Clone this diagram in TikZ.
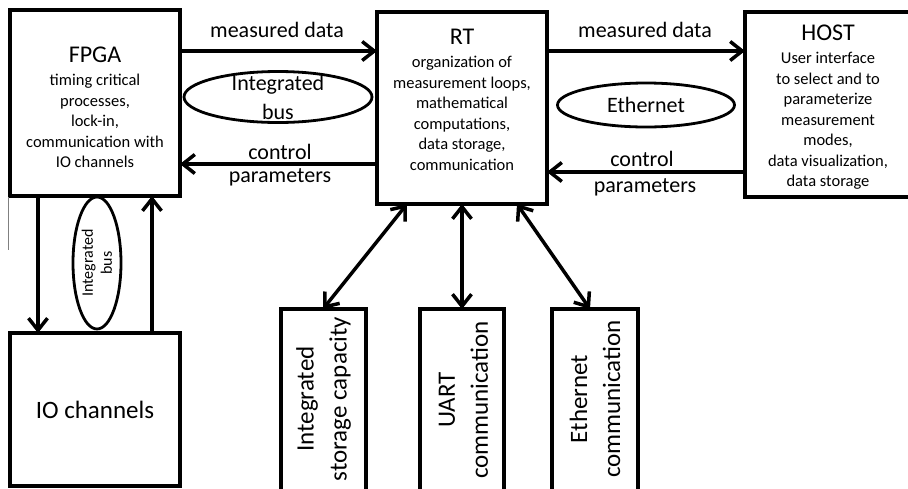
\documentclass[tikz,border=0pt]{standalone}
\usepackage{fontspec}
\setmainfont{Carlito}
\usetikzlibrary{arrows.meta,shapes.geometric}
\begin{document}
\begin{tikzpicture}[x=1pt,y=-1pt,
  box/.style={draw,line width=3.3pt,rectangle,outer sep=0pt,inner sep=0pt},
  conn/.style={line width=3.5pt,-{Straight Barb[length=12pt,width=19pt]}},
  both/.style={line width=3.5pt,{Straight Barb[length=12pt,width=19pt]}-{Straight Barb[length=12pt,width=19pt]}},
  bus/.style={draw,ellipse,line width=2.8pt,inner sep=0pt,outer sep=0pt},
  title/.style={font=\fontsize{24}{28}\selectfont,inner sep=0pt},
  body/.style={font=\fontsize{16.5}{20.5}\selectfont,align=center,inner sep=0pt},
  lbl/.style={font=\fontsize{22}{26}\selectfont,inner sep=0pt},
  big/.style={font=\fontsize{25}{33}\selectfont,align=center,inner sep=0pt}]
\useasboundingbox (0,0) rectangle (908,488);
\fill[white] (0,0) rectangle (908,488);

% main blocks
\node[box,minimum width=170pt,minimum height=186pt] (fpga) at (95,103) {};
\node[box,minimum width=170pt,minimum height=192pt] (rt) at (462,108) {};
\node[box,minimum width=170pt,minimum height=185pt] (host) at (830,104.5) {};
\node[box,minimum width=170pt,minimum height=153pt] (io) at (95,409.5) {};
\node[box,minimum width=85pt,minimum height=191pt] (stor) at (323.5,404.5) {};
\node[box,minimum width=84pt,minimum height=191pt] (uart) at (462,404.5) {};
\node[box,minimum width=86pt,minimum height=191pt] (ethc) at (595,404.5) {};

% block texts
\node[title] (fpgat) at (95,55) {FPGA};
\node[body] (fpgab) at (95,121) {timing critical\\processes,\\lock-in,\\communication with\\IO channels};
\node[title] (rtt) at (462,37) {RT};
\node[body] (rtb) at (462,113.5) {organization of\\measurement loops,\\mathematical\\computations,\\data storage,\\communication};
\node[title] (hostt) at (828,33) {HOST};
\node[body] (hostb) at (828,121) {User interface\\to select and to\\parameterize\\measurement\\modes,\\data visualization,\\data storage};
\node[big] (iot) at (95,410) {IO channels};
\node[big,rotate=90] (stort) at (323.5,399) {Integrated\\storage capacity};
\node[big,rotate=90] (uartt) at (463.5,400) {UART\\communication};
\node[big,rotate=90] (etht) at (595,399) {Ethernet\\communication};

% buses
\node[bus,minimum width=188pt,minimum height=51pt] (ibus) at (278,97) {};
\node[lbl,align=center,font=\fontsize{22}{29}\selectfont] (ibust) at (278,97) {Integrated\\bus};
\node[bus,minimum width=177pt,minimum height=44pt] (ebus) at (646,105) {};
\node[lbl] (ebust) at (646,105) {Ethernet};
\node[bus,minimum width=48pt,minimum height=132pt] (vbus) at (97,263) {};
\node[rotate=90,align=center,inner sep=0pt,font=\fontsize{16}{19}\selectfont] (vbust) at (97,263) {Integrated\\bus};

% connector labels
\node[lbl] (md1) at (277,30) {measured data};
\node[lbl] (md2) at (645,30) {measured data};
\node[lbl] (cp1a) at (280,152) {control};
\node[lbl] (cp1b) at (280,177) {parameters};
\node[lbl] (cp2a) at (642,159) {control};
\node[lbl] (cp2b) at (645,187) {parameters};

% connectors
\draw[conn] (fpga.east |- 0,51) -- (rt.west |- 0,51);
\draw[conn] (rt.west |- 0,164) -- (fpga.east |- 0,164);
\draw[conn] (rt.east |- 0,51) -- (host.west |- 0,51);
\draw[conn] (host.west |- 0,172) -- (rt.east |- 0,172);
\draw[conn] (fpga.south -| 38,0) -- (io.north -| 38,0);
\draw[conn] (io.north -| 152,0) -- (fpga.south -| 152,0);
\draw[both] (rt.south -| 407,0) -- (stor.north -| 323,0);
\draw[both] (rt.south -| 462,0) -- (uart.north -| 462,0);
\draw[both] (rt.south -| 517,0) -- (ethc.north -| 590,0);

% thin edge stroke at the left
\draw[gray,line width=1pt] (8,197) -- (8,250);
\end{tikzpicture}
\end{document}
